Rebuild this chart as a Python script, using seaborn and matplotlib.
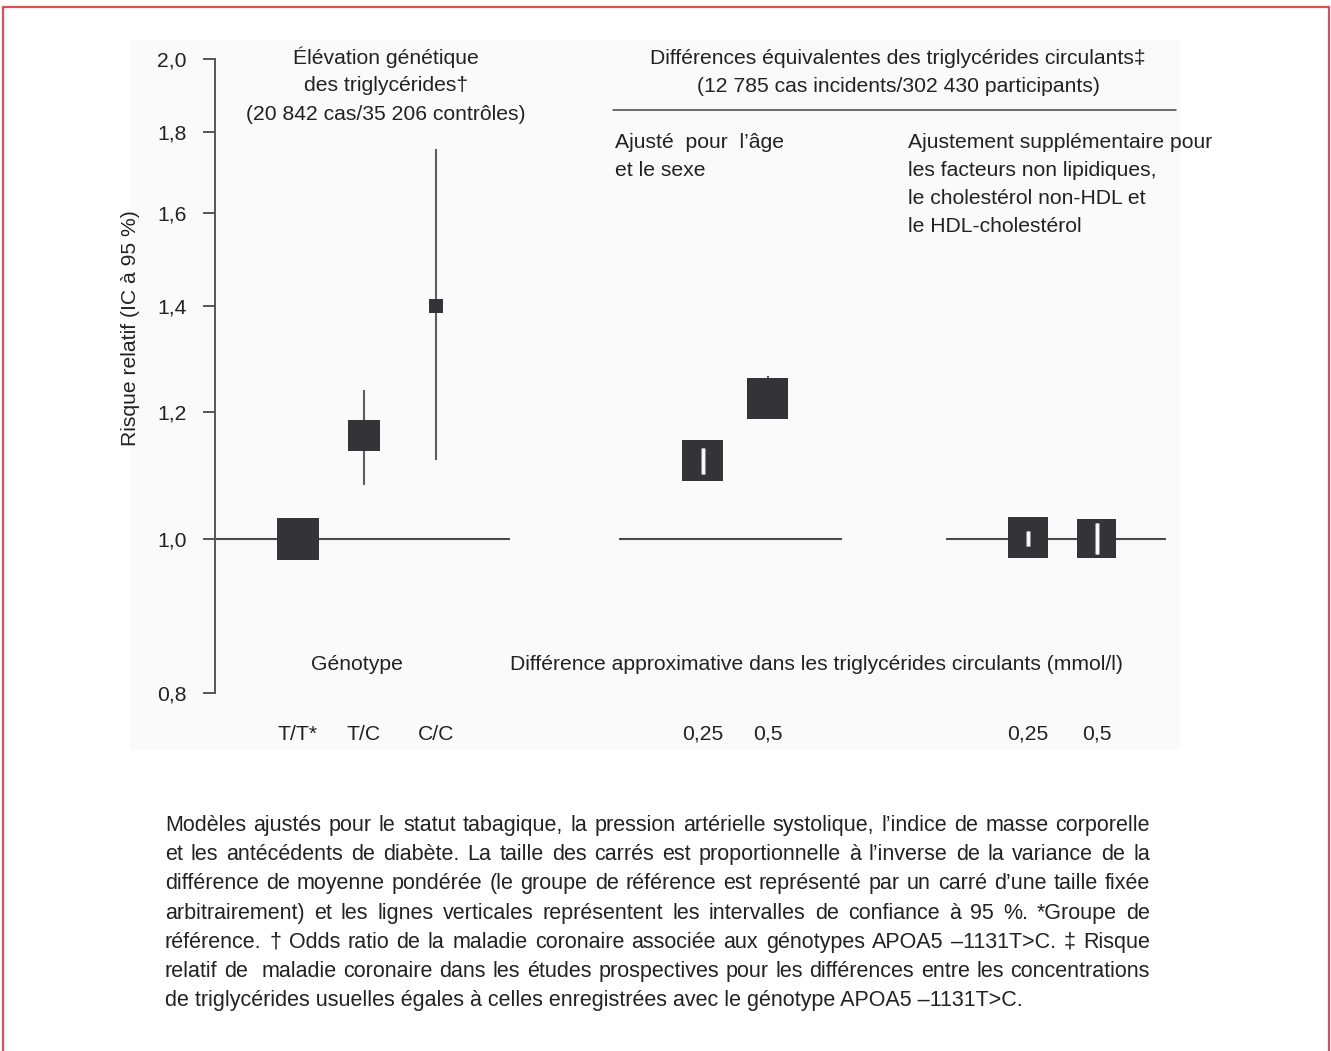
import numpy as np
import pandas as pd
import matplotlib.pyplot as plt
import matplotlib.patheffects as pe
import seaborn as sns
from matplotlib.lines import Line2D
from matplotlib.patches import Rectangle
from matplotlib.ticker import NullLocator

# valeurs (risque relatif, IC à 95 %)
tick_labels = ['T/T*', 'T/C', 'C/C', '0,25', '0,5', '0,25', '0,5']
groupe = ['genotype', 'genotype', 'genotype', 'age_sexe', 'age_sexe', 'ajuste', 'ajuste']
rr = [1.0, 1.16, 1.40, 1.12, 1.225, 1.002, 1.0]
ci_low = [np.nan, 1.08, 1.12, 1.098, 1.198, 0.99, 0.978]
ci_high = [np.nan, 1.24, 1.756, 1.14, 1.265, 1.011, 1.023]
poids = [1.0, 0.545, 0.11, 0.95, 0.95, 0.95, 0.88]  # surface relative des carrés
y_ticks = [0.8, 1.0, 1.2, 1.4, 1.6, 1.8, 2.0]

legende = [
    "Modèles ajustés pour le statut tabagique, la pression artérielle systolique, l’indice de masse corporelle",
    "et les antécédents de diabète. La taille des carrés est proportionnelle à l’inverse de la variance de la",
    "différence de moyenne pondérée (le groupe de référence est représenté par un carré d’une taille fixée",
    "arbitrairement) et les lignes verticales représentent les intervalles de confiance à 95 %. *Groupe de",
    "référence. † Odds ratio de la maladie coronaire associée aux génotypes APOA5 –1131T>C. ‡ Risque",
    "relatif de  maladie coronaire dans les études prospectives pour les différences entre les concentrations",
    "de triglycérides usuelles égales à celles enregistrées avec le génotype APOA5 –1131T>C.",
]

# mise en page (pixels de la figure)
W, H, DPI = 1331, 1051, 100
x_pos = [83, 149, 221, 487.5, 552.5, 813, 881.5]
ref_spans = {'genotype': (0, 295), 'age_sexe': (404, 627), 'ajuste': (731, 951)}
S_REF = (42 * 72 / DPI) ** 2  # carré de référence ~42 px
DARK = '#343438'
TXT = '#222222'
FS = 15.2

sns.set_theme(style='white')
plt.rcParams['font.family'] = ['Liberation Sans', 'DejaVu Sans']
plt.rcParams['text.color'] = TXT


def fx(x):
    return x / W


def fy(y):
    return 1 - y / H


df = pd.DataFrame({'pos': x_pos, 'rr': rr, 'lo': ci_low, 'hi': ci_high,
                   'poids': poids, 'groupe': groupe})

fig = plt.figure(figsize=(W / DPI, H / DPI), dpi=DPI)
fig.patch.set_facecolor('white')
fig.add_artist(Rectangle((fx(130), fy(750)), fx(1050), 710 / H,
                         transform=fig.transFigure, facecolor='#fafafa',
                         edgecolor='none', zorder=0))

ax = fig.add_axes([fx(215), fy(693), fx(965), 634 / H])
ax.set_facecolor('none')
ax.set_yscale('log')
ax.set_ylim(0.8, 2.0)
ax.set_xlim(0, 965)
ax.set_yticks(y_ticks)
ax.set_yticklabels([f'{t:.1f}'.replace('.', ',') for t in y_ticks], fontsize=FS, color=TXT)
ax.yaxis.set_minor_locator(NullLocator())
ax.set_xticks(x_pos)
ax.set_xticklabels(tick_labels, fontsize=FS, color=TXT)
ax.tick_params(axis='x', length=0, pad=23)
ax.tick_params(axis='y', left=True, direction='out', length=8.6, width=1.4,
               color='#555555', pad=12)
for side in ['top', 'right', 'bottom']:
    ax.spines[side].set_visible(False)
ax.spines['left'].set_color('#555555')
ax.spines['left'].set_linewidth(1.4)

# lignes de référence à 1,0
for g, (x0, x1) in ref_spans.items():
    ax.hlines(1.0, x0, x1, color='#4a4a4a', lw=1.5, zorder=1)

# IC : sous le carré s'ils dépassent, en blanc dessus s'ils sont contenus
ci_in = df.dropna(subset=['lo'])
inside = []
for _, r in ci_in.iterrows():
    half = np.sqrt(r['poids'] * S_REF) * DPI / 72 / 2
    yc = ax.transData.transform((r['pos'], r['rr']))[1]
    ylo = ax.transData.transform((r['pos'], r['lo']))[1]
    yhi = ax.transData.transform((r['pos'], r['hi']))[1]
    inside.append((yhi <= yc + half) and (ylo >= yc - half))
inside = np.array(inside)

out = ci_in[~inside]
ax.vlines(out['pos'], out['lo'], out['hi'], color='#5c5c5c', lw=1.5, zorder=1)

sns.scatterplot(data=df, x='pos', y='rr', size='poids', sizes=(0, S_REF),
                size_norm=(0, 1), marker='s', color=DARK, edgecolor='none',
                linewidth=0, legend=False, ax=ax, zorder=2)

ins = ci_in[inside]
lines = ax.vlines(ins['pos'], ins['lo'], ins['hi'], color='white', lw=2.0, zorder=3)
lines.set_path_effects([pe.Stroke(linewidth=3.4, foreground='#a0a0a0'), pe.Normal()])
ax.set_xlabel('')
ax.set_ylabel('')


def texte(x, y0, lignes, dy=28.5, ha='center', size=FS):
    for i, s in enumerate(lignes):
        fig.text(fx(x), fy(y0 + i * dy), s, ha=ha, va='center', fontsize=size, color=TXT)


texte(386, 57, ['Élévation génétique', 'des triglycérides†', '(20 842 cas/35 206 contrôles)'])
texte(898, 58, ['Différences équivalentes des triglycérides circulants‡',
                '(12 785 cas incidents/302 430 participants)'])
fig.add_artist(Line2D([fx(613), fx(1176)], [fy(110), fy(110)], color='#444444', lw=1.1))
texte(615, 142, ['Ajusté  pour  l’âge', 'et le sexe'], dy=28, ha='left')
texte(908, 142, ['Ajustement supplémentaire pour', 'les facteurs non lipidiques,',
                 'le cholestérol non-HDL et', 'le HDL-cholestérol'], dy=28, ha='left')
texte(357, 665, ['Génotype'])
texte(816, 665, ['Différence approximative dans les triglycérides circulants (mmol/l)'])
fig.text(fx(130), fy(328), 'Risque relatif (IC à 95 %)', rotation=90, ha='center',
         va='center', fontsize=FS, color=TXT)

# légende justifiée (mots posés sur la ligne de base)
renderer = fig.canvas.get_renderer()
x_left, x_right, cap_size = 165, 1150, 15.5
for i, ligne in enumerate(legende):
    y = 831 + i * 29.2
    if i == len(legende) - 1:
        fig.text(fx(x_left), fy(y), ligne, ha='left', va='baseline', fontsize=cap_size, color=TXT)
        continue
    mots = ligne.split(' ')
    objs = [fig.text(0, fy(y), m, ha='left', va='baseline', fontsize=cap_size, color=TXT)
            for m in mots]
    larg = [o.get_window_extent(renderer).width if m else 0 for o, m in zip(objs, mots)]
    gap = (x_right - x_left - sum(larg)) / (len(mots) - 1)
    x = x_left
    for o, w in zip(objs, larg):
        o.set_x(fx(x))
        x += w + gap

# cadre rouge ouvert en bas
red = '#d6505a'
fig.add_artist(Line2D([fx(3), fx(1329)], [fy(7), fy(7)], color=red, lw=1.6))
fig.add_artist(Line2D([fx(3), fx(3)], [fy(7), 0], color=red, lw=1.6))
fig.add_artist(Line2D([fx(1329), fx(1329)], [fy(7), 0], color=red, lw=1.6))

fig.savefig('out.png', dpi=DPI)
plt.close(fig)
